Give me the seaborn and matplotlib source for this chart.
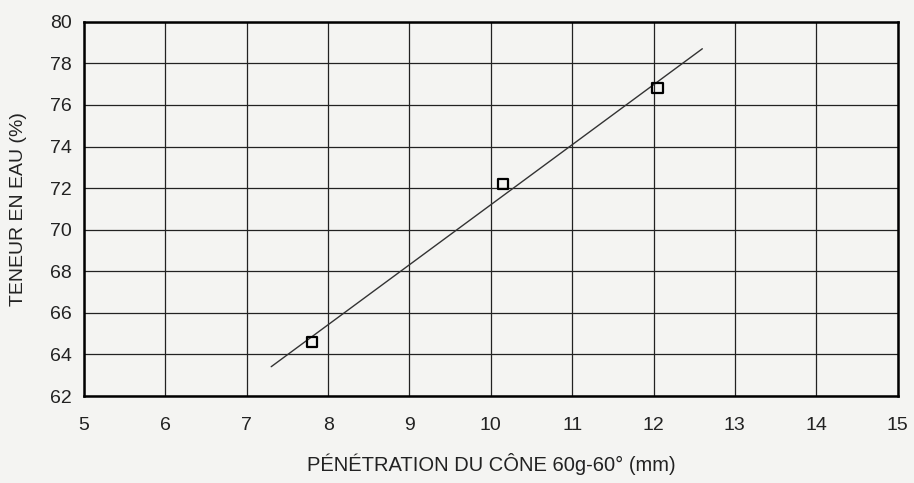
#import libraries
import seaborn as sns
import matplotlib.pyplot as plt
import numpy as np
import pandas as pd

#set global styles
sns.set_style("whitegrid")
plt.rcParams['font.family'] = ['Liberation Sans', 'DejaVu Sans']

#cone penetration test data
penetration = [7.8, 10.15, 12.05]
water_content = [64.6, 72.2, 76.8]
trend_range = [7.3, 12.6]

df = pd.DataFrame({"penetration": penetration, "water": water_content})

#linear trendline through the points
slope, intercept = np.polyfit(penetration, water_content, 1)
trend_x = np.array(trend_range)
trend = pd.DataFrame({"x": trend_x, "y": slope * trend_x + intercept})

fig = plt.figure(figsize=(9.14, 4.83), dpi=100, facecolor="#f4f4f2")
ax = fig.add_axes([0.092, 0.18, 0.89, 0.775])
ax.set_facecolor("#f4f4f2")

sns.lineplot(data=trend, x="x", y="y", color="#333333", linewidth=1.0, ax=ax)
sns.scatterplot(data=df, x="penetration", y="water", marker="s", s=55,
                facecolor="none", edgecolor="black", linewidth=1.6, ax=ax, zorder=5)

ax.set_xlim(5, 15)
ax.set_ylim(62, 80)
ax.set_xticks(range(5, 16))
ax.set_yticks(range(62, 81, 2))
ax.grid(True, color="#222222", linewidth=0.9)
for s in ax.spines.values():
    s.set_color("black")
    s.set_linewidth(1.8)
ax.tick_params(axis="both", length=5, color="#222222", labelsize=14, labelcolor="#222222")
ax.tick_params(axis="x", pad=10)
ax.tick_params(axis="y", pad=4)

ax.set_xlabel("PÉNÉTRATION DU CÔNE 60g-60° (mm)", fontsize=14.5, color="#222222", labelpad=14)
ax.set_ylabel("TENEUR EN EAU (%)", fontsize=14, color="#222222", labelpad=16)

plt.savefig("out.png", dpi=100, facecolor=fig.get_facecolor())
